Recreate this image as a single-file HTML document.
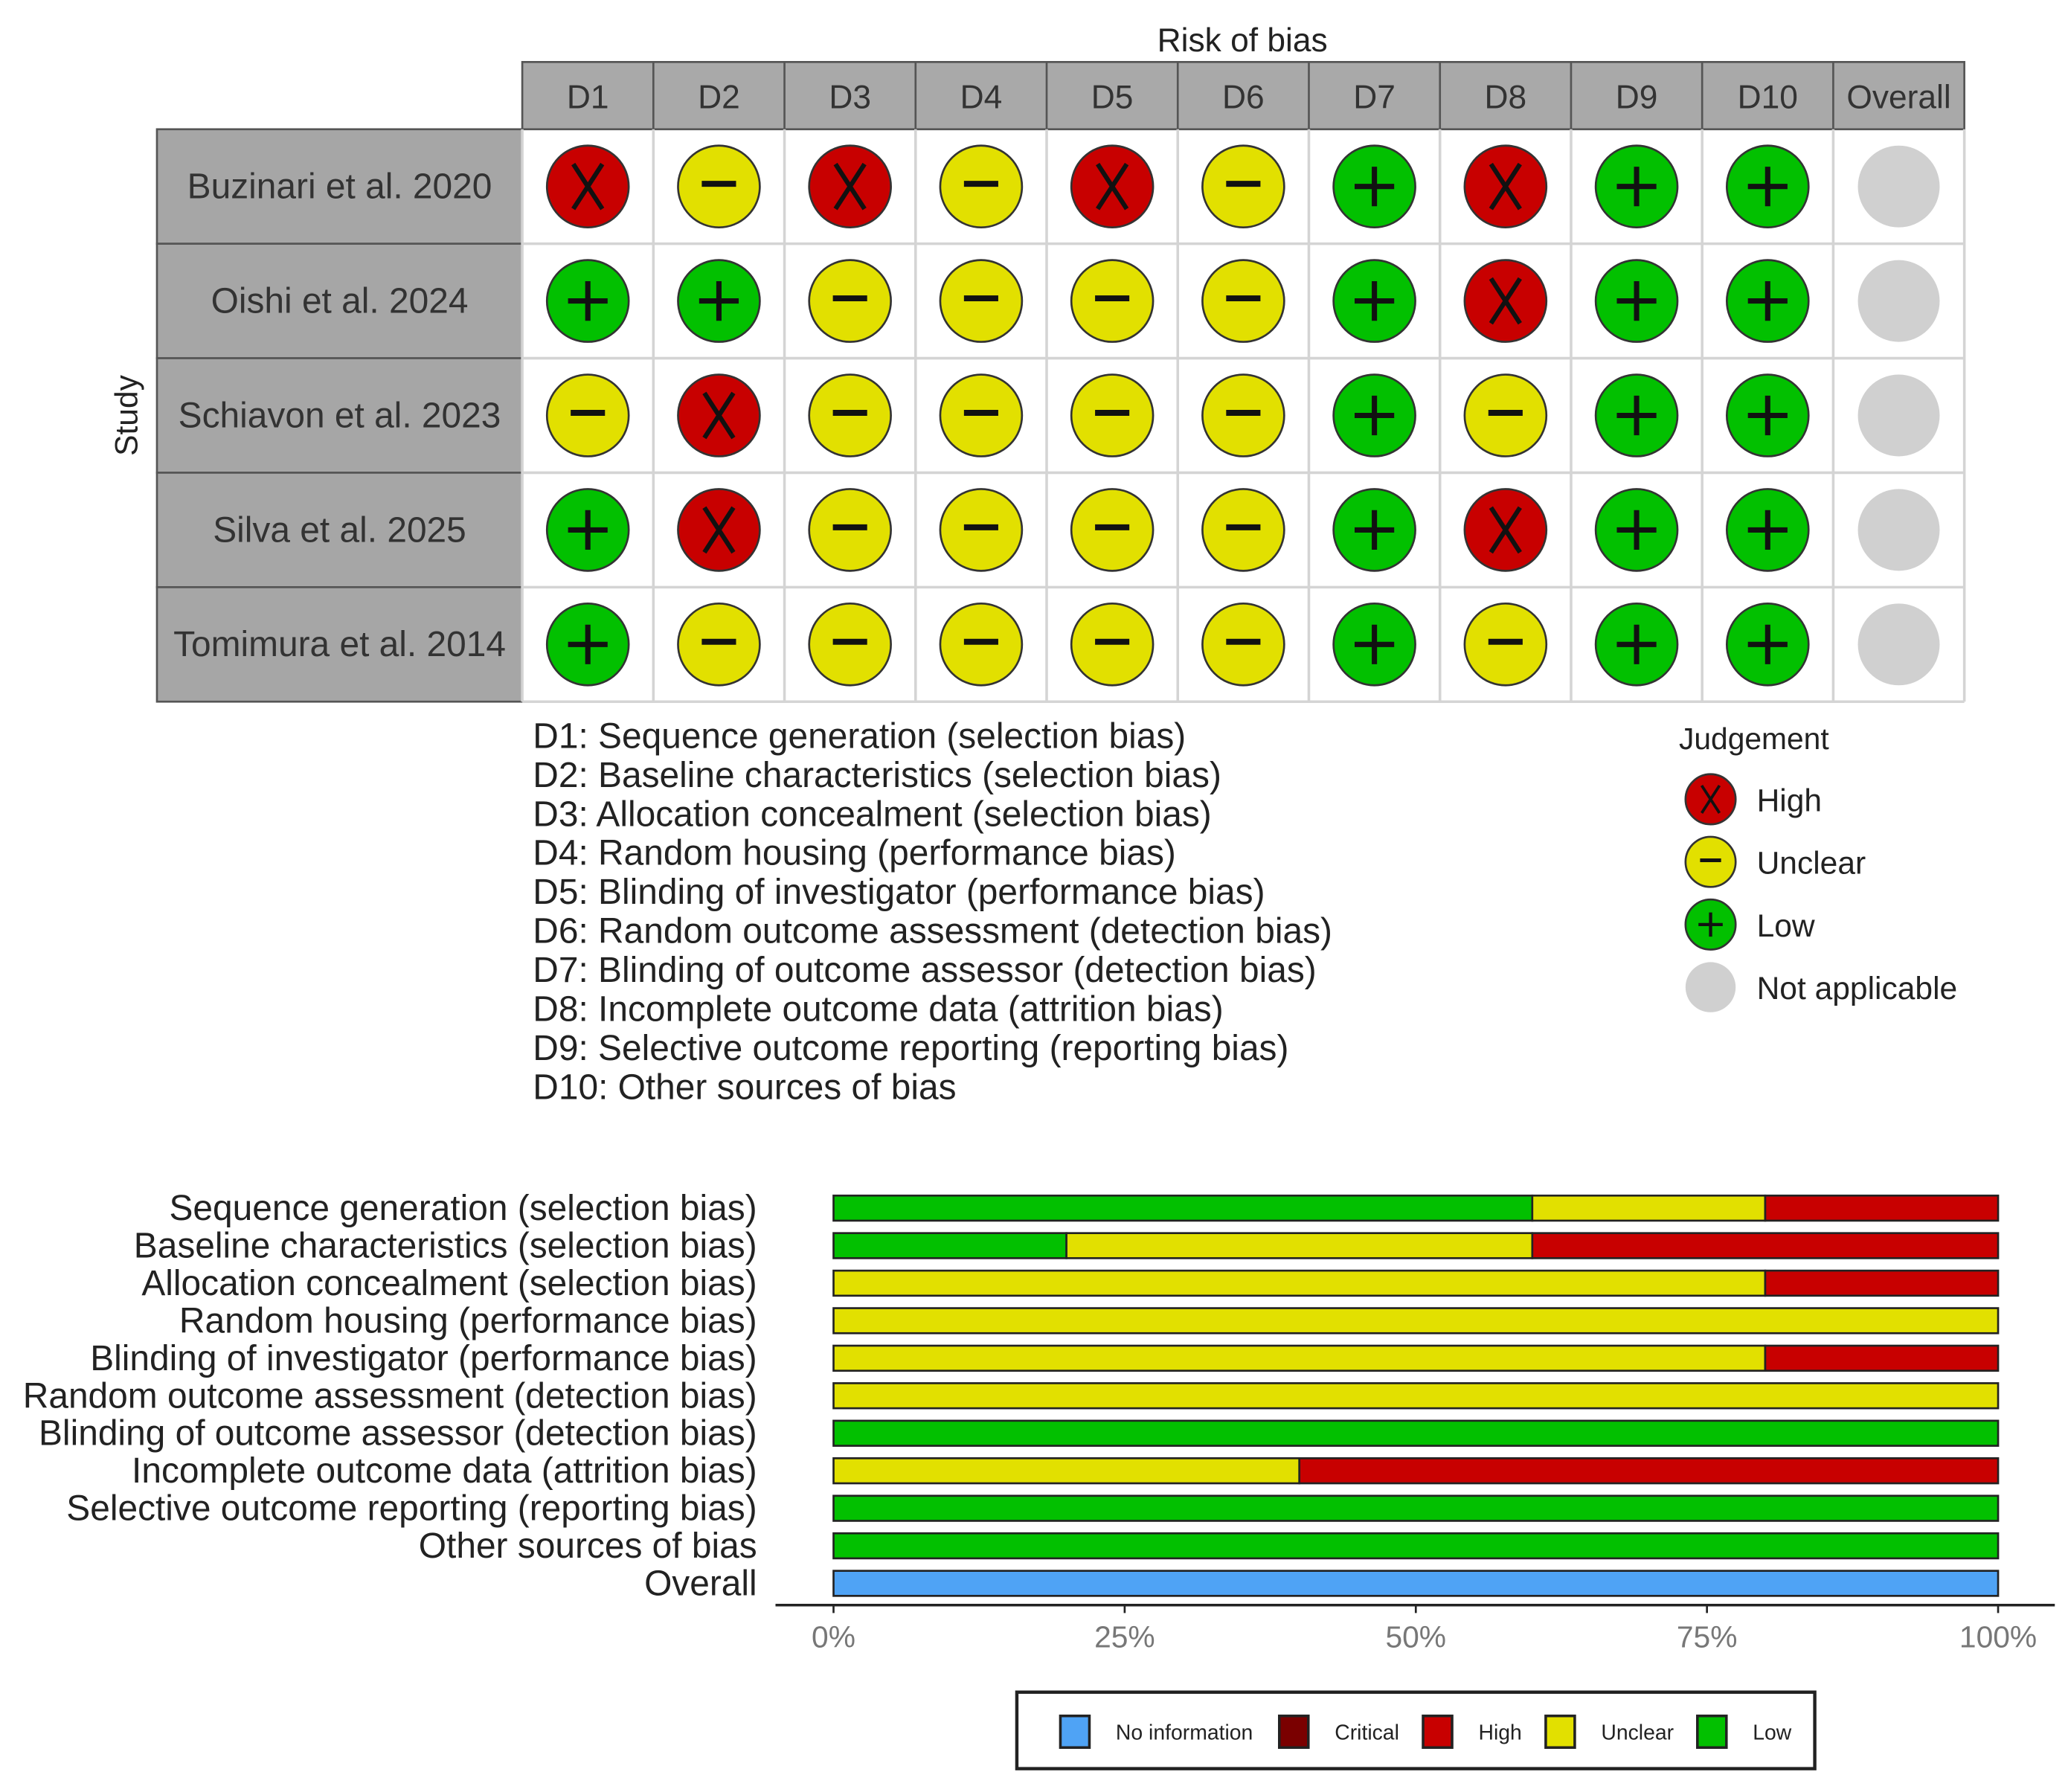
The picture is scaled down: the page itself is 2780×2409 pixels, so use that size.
<!DOCTYPE html>
<html><head><meta charset="utf-8"><style>
html,body{margin:0;padding:0;background:#fff}
svg{display:block;font-family:"Liberation Sans",sans-serif}
</style></head><body>
<svg id="chart" width="2780" height="2409" viewBox="0 0 1568 1358.7" preserveAspectRatio="none" xmlns="http://www.w3.org/2000/svg">
<text x="942" y="39" text-anchor="middle" font-size="25" fill="#222">Risk of bias</text>
<text transform="translate(104,315) rotate(-90)" text-anchor="middle" font-size="24" fill="#222">Study</text>
<g id="grid"></g>
<g id="domainLegend"></g>
<g id="judgeLegend"></g>
<g id="bars"></g>
<g id="axis"></g>
<g id="barLegend"></g>
</svg>
<script>
const domains = ["D1","D2","D3","D4","D5","D6","D7","D8","D9","D10","Overall"];
const studies = ["Buzinari et al. 2020","Oishi et al. 2024","Schiavon et al. 2023","Silva et al. 2025","Tomimura et al. 2014"];
const judgements = [
  ["H","U","H","U","H","U","L","H","L","L","N"],
  ["L","L","U","U","U","U","L","H","L","L","N"],
  ["U","H","U","U","U","U","L","U","L","L","N"],
  ["L","H","U","U","U","U","L","H","L","L","N"],
  ["L","U","U","U","U","U","L","U","L","L","N"]
];
const domainDescriptions = ["D1: Sequence generation (selection bias)","D2: Baseline characteristics (selection bias)","D3: Allocation concealment (selection bias)","D4: Random housing (performance bias)","D5: Blinding of investigator (performance bias)","D6: Random outcome assessment (detection bias)","D7: Blinding of outcome assessor (detection bias)","D8: Incomplete outcome data (attrition bias)","D9: Selective outcome reporting (reporting bias)","D10: Other sources of bias"];
const barCategories = ["Sequence generation (selection bias)","Baseline characteristics (selection bias)","Allocation concealment (selection bias)","Random housing (performance bias)","Blinding of investigator (performance bias)","Random outcome assessment (detection bias)","Blinding of outcome assessor (detection bias)","Incomplete outcome data (attrition bias)","Selective outcome reporting (reporting bias)","Other sources of bias","Overall"];
const lowPct     = [60,20,0,0,0,0,100,0,100,100,0];
const unclearPct = [20,40,80,100,80,100,0,40,0,0,0];
const highPct    = [20,40,20,0,20,0,0,60,0,0,0];
const noInfoPct  = [0,0,0,0,0,0,0,0,0,0,100];
const tickValues = [0,25,50,75,100];
const tickLabels = ["0%","25%","50%","75%","100%"];

const NS="http://www.w3.org/2000/svg";
const COL={H:"#c80000",U:"#e2e000",L:"#02c000",N:"#d0d0d0",B:"#4fa3f5",C:"#7a0000"};
function mk(tag,attrs,parent){const e=document.createElementNS(NS,tag);for(const k in attrs)e.setAttribute(k,attrs[k]);parent.appendChild(e);return e;}

const grid=document.getElementById('grid');
const gx0=396,cw=99.4,hy0=47,hh=51,ry0=98,rh=86.8,lx0=119;
const colX=i=>gx0+cw*i, rowY=j=>ry0+rh*j;
mk('rect',{x:gx0,y:hy0,width:cw*domains.length,height:hh,fill:"#a9a9a9",stroke:"#555","stroke-width":1.5},grid);
domains.forEach((d,i)=>{
  const t=mk('text',{x:colX(i)+cw/2,y:hy0+35,"text-anchor":"middle","font-size":25,fill:"#333"},grid);t.textContent=d;
  
  
  if(i>0)mk('line',{x1:colX(i),y1:hy0,x2:colX(i),y2:hy0+hh,stroke:"#555","stroke-width":1.5},grid);
});
studies.forEach((s,j)=>{
  const r=mk('rect',{x:lx0,y:rowY(j),width:gx0-lx0,height:rh,fill:"#a6a6a6",stroke:"#555","stroke-width":1.5},grid);
  
  
  const t=mk('text',{x:(lx0+gx0)/2,y:rowY(j)+rh/2+9,"text-anchor":"middle","font-size":27,fill:"#333"},grid);t.textContent=s;
  
  
});
for(let i=0;i<=domains.length;i++)mk('line',{x1:colX(i),y1:ry0,x2:colX(i),y2:rowY(studies.length),stroke:"#d4d4d4","stroke-width":2},grid);
for(let j=1;j<=studies.length;j++)mk('line',{x1:gx0,y1:rowY(j),x2:colX(domains.length),y2:rowY(j),stroke:"#d4d4d4","stroke-width":2},grid);
function symbol(g,cx,cy,r,v){
  const c=mk('circle',{cx:cx,cy:cy,r:r,fill:COL[v],stroke:v==="N"?"none":"#333","stroke-width":1.5},g);
  const k=r/31;
  if(v==="H"){mk('path',{d:`M${cx-11*k} ${cy-17*k}L${cx+11*k} ${cy+17*k}M${cx+11*k} ${cy-17*k}L${cx-11*k} ${cy+17*k}`,stroke:"#111","stroke-width":3.5*k},g);}
  else if(v==="U"){mk('line',{x1:cx-13*k,y1:cy-2*k,x2:cx+13*k,y2:cy-2*k,stroke:"#111","stroke-width":4.5*k},g);}
  else if(v==="L"){mk('path',{d:`M${cx-15*k} ${cy}H${cx+15*k}M${cx} ${cy-15*k}V${cy+15*k}`,stroke:"#111","stroke-width":4*k},g);}
  return c;
}
judgements.forEach((row,j)=>row.forEach((v,i)=>{
  const c=symbol(grid,colX(i)+cw/2,rowY(j)+rh/2,31,v);
  
  
}));

const dl=document.getElementById('domainLegend');
domainDescriptions.forEach((d,i)=>{
  const t=mk('text',{x:404,y:567+29.6*i,"font-size":27,fill:"#222"},dl);t.textContent=d;
  
  
});
const jl=document.getElementById('judgeLegend');
const jt=mk('text',{x:1273,y:568,"font-size":23,fill:"#222"},jl);jt.textContent="Judgement";


[["H","High"],["U","Unclear"],["L","Low"],["N","Not applicable"]].forEach((p,i)=>{
  const cy=606+47.5*i;
  const c=symbol(jl,1297,cy,19,p[0]);
  
  
  const t=mk('text',{x:1332,y:cy+9,"font-size":24,fill:"#222"},jl);t.textContent=p[1];
});

const bars=document.getElementById('bars');
const X0=632,X1=1515;
const xs=v=>X0+(X1-X0)*v/100;
const yc=i=>916+28.45*i;
const bh=19;
barCategories.forEach((c,i)=>{
  const t=mk('text',{x:574,y:yc(i)+9,"text-anchor":"end","font-size":27,fill:"#222"},bars);t.textContent=c;
  
  
  let acc=0;
  [[lowPct,"L"],[unclearPct,"U"],[highPct,"H"],[noInfoPct,"B"]].forEach(s=>{
    const v=s[0][i]; if(v<=0)return;
    const r=mk('rect',{x:xs(acc),y:yc(i)-bh/2,width:xs(acc+v)-xs(acc),height:bh,fill:COL[s[1]],stroke:"#222","stroke-width":1.5},bars);
    
    
    acc+=v;
  });
});
const ax=document.getElementById('axis');
mk('line',{x1:588,y1:1217,x2:1558,y2:1217,stroke:"#222","stroke-width":2},ax);
tickValues.forEach((v,i)=>{
  mk('line',{x1:xs(v),y1:1217,x2:xs(v),y2:1223,stroke:"#222","stroke-width":1.5},ax);
  const t=mk('text',{x:xs(v),y:1249,"text-anchor":"middle","font-size":23,fill:"#777"},ax);t.textContent=tickLabels[i];
  
  
});
const bl=document.getElementById('barLegend');
const lb=mk('rect',{x:771,y:1283,width:605,height:58,fill:"#fff",stroke:"#222","stroke-width":2.5},bl);


[["B","No information",804],["C","Critical",970],["H","High",1079],["U","Unclear",1172],["L","Low",1287]].forEach(p=>{
  const r=mk('rect',{x:p[2],y:1301,width:22,height:24,fill:COL[p[0]],stroke:"#222","stroke-width":2},bl);
  
  
  const t=mk('text',{x:p[2]+42,y:1319,"font-size":16,fill:"#222"},bl);t.textContent=p[1];
});
</script>
</body></html>
